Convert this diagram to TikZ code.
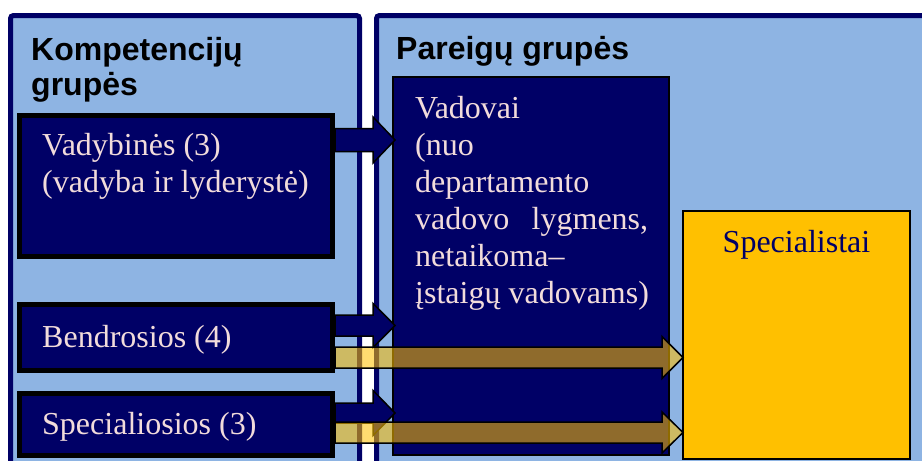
\documentclass[tikz,border=0pt]{standalone}
\usepackage{fontspec}
\setmainfont{Liberation Serif}
\newfontfamily\headfont{Liberation Sans}
\definecolor{navy}{HTML}{000066}
\definecolor{panelblue}{HTML}{8EB4E3}
\definecolor{gold}{HTML}{FFC000}
\definecolor{pinktext}{HTML}{F2DCDB}
\newcommand{\blockarrow}[7]{%
  \path[#1] (#2,{#5-#6}) -- (#3,{#5-#6}) -- (#3,{#5-#7}) -- (#4,#5)
    -- (#3,{#5+#7}) -- (#3,{#5+#6}) -- (#2,{#5+#6}) -- cycle;}
\begin{document}
\begin{tikzpicture}[x=1pt,y=-1pt,
  panel/.style={draw=navy, line width=5pt, fill=panelblue, rounded corners=3pt, inner sep=0, outer sep=0},
  compbox/.style={draw=black, line width=5pt, fill=navy, inner sep=0, outer sep=0},
  rolebox/.style={draw=black, line width=1.5pt, fill=navy, inner sep=0, outer sep=0},
  specbox/.style={draw=black, line width=2pt, fill=gold, inner sep=0, outer sep=0},
  headtext/.style={font=\headfont\bfseries\fontsize{32}{37}\selectfont, text=black, inner sep=0, anchor=base west},
  bodytext/.style={font=\fontsize{32}{37}\selectfont, text=pinktext, inner sep=0, anchor=base west},
  navyarrow/.style={draw=black, line width=1.5pt, fill=navy, line join=miter},
  goldarrow/.style={draw=black, line width=1.5pt, fill=gold, fill opacity=0.56, line join=miter}]
\useasboundingbox (0,0) rectangle (922,461);
\clip (0,0) rectangle (922,461);
% panels
\node[panel, minimum width=349, minimum height=470] (leftpanel) at (185,250.5) {};
\node[panel, minimum width=570, minimum height=470] (rightpanel) at (661.5,250.5) {};
% titles
\node[headtext] (t1a) at (31,60) {Kompetencijų};
\node[headtext] (t1b) at (31,95) {grupės};
\node[headtext] (t2) at (396,59) {Pareigų grupės};
% competence boxes
\node[compbox, minimum width=313, minimum height=141] (vadyb) at (176,186) {};
\node[compbox, minimum width=313, minimum height=66] (bendr) at (176,337.5) {};
\node[compbox, minimum width=313, minimum height=62] (specl) at (176,424.5) {};
% role boxes
\node[rolebox, minimum width=276, minimum height=378] (vadovai) at (531,266) {};
\node[specbox, minimum width=227, minimum height=248] (specialistai) at (796.5,335) {};
% navy arrows
\blockarrow{navyarrow}{335}{373}{395}{140}{11.5}{23}
\blockarrow{navyarrow}{335}{373}{395}{325.5}{10.5}{22}
\blockarrow{navyarrow}{335}{373}{395}{413}{10}{22.5}
% texts
\node[bodytext] (vadybA) at (42,155) {Vadybinės (3)};
\node[bodytext] (vadybB) at (42,192) {(vadyba ir lyderystė)};
\node[bodytext] (bendrT) at (42,347) {Bendrosios (4)};
\node[bodytext] (speclT) at (42,434) {Specialiosios (3)};
\node[bodytext] (vadA) at (415,118) {Vadovai};
\node[bodytext] (vadB) at (415,155) {(nuo};
\node[bodytext] (vadC) at (415,192) {departamento};
\node[bodytext] (vadD) at (415,229) {\makebox[233pt][s]{vadovo\hfill lygmens,}};
\node[bodytext] (vadE) at (415,266) {netaikoma–};
\node[bodytext] (vadF) at (415,303) {įstaigų vadovams)};
\node[bodytext, text=navy, anchor=base] (specialT) at (796.5,252) {Specialistai};
% gold arrows
\blockarrow{goldarrow}{335}{662}{683}{357.5}{10.5}{21}
\blockarrow{goldarrow}{335}{662}{683}{432.5}{10.5}{20.5}
\end{tikzpicture}
\end{document}
